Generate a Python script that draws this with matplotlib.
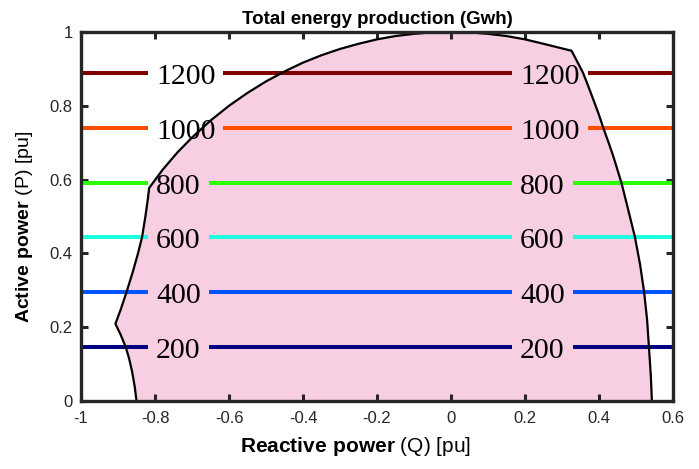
import matplotlib
matplotlib.use("Agg")
import matplotlib.pyplot as plt
from matplotlib.transforms import offset_copy

plt.rcParams["font.family"] = ["Liberation Sans", "DejaVu Sans"]
plt.rcParams["mathtext.fontset"] = "custom"
plt.rcParams["mathtext.rm"] = "Liberation Sans"
plt.rcParams["mathtext.bf"] = "Liberation Sans:bold"

# Energy levels (GWh) and the active power at which each level is reached
energy_levels = [200, 400, 600, 800, 1000, 1200]
level_power = [0.146, 0.295, 0.444, 0.591, 0.740, 0.889]
level_colors = ["#000080", "#0055FF", "#1EFFE0", "#2BFF00", "#FF4E00", "#800000"]

# Capability boundary of the plant in the Q-P plane
boundary_q = [-0.850, -0.855, -0.862, -0.870, -0.879, -0.893, -0.907,
              -0.892, -0.877, -0.860, -0.846, -0.835, -0.826, -0.819, -0.816,
              -0.780, -0.740, -0.700, -0.650, -0.600, -0.550, -0.500, -0.450,
              -0.400, -0.350, -0.300, -0.250, -0.200, -0.150, -0.100, -0.050,
              0.000, 0.050, 0.100, 0.150, 0.200, 0.250, 0.326,
              0.341, 0.357, 0.371, 0.385, 0.399, 0.412, 0.426, 0.439,
              0.450, 0.461, 0.479, 0.497, 0.511, 0.522, 0.530, 0.535,
              0.540, 0.543]
boundary_p = [0.000, 0.040, 0.080, 0.115, 0.146, 0.180, 0.209,
              0.250, 0.295, 0.350, 0.400, 0.444, 0.500, 0.550, 0.577,
              0.626, 0.673, 0.714, 0.760, 0.800, 0.835, 0.866, 0.893,
              0.917, 0.937, 0.954, 0.968, 0.980, 0.989, 0.995, 0.999,
              1.000, 0.999, 0.995, 0.989, 0.980, 0.968, 0.949,
              0.920, 0.889, 0.853, 0.816, 0.778, 0.739, 0.700, 0.662,
              0.626, 0.590, 0.518, 0.445, 0.370, 0.295, 0.220, 0.146,
              0.070, 0.000]

x_ticks = [-1, -0.8, -0.6, -0.4, -0.2, 0, 0.2, 0.4, 0.6]
x_ticklabels = ["-1", "-0.8", "-0.6", "-0.4", "-0.2", "0", "0.2", "0.4", "0.6"]
y_ticks = [0, 0.2, 0.4, 0.6, 0.8, 1]
y_ticklabels = ["0", "0.2", "0.4", "0.6", "0.8", "1"]

# Where the inline contour labels start (Q, pu)
label_starts = [-0.819, 0.165]

frame_color = "#262626"

fig = plt.figure(figsize=(6.99, 4.69), dpi=100)
ax = fig.add_axes([0.1159, 0.145, 0.9628 - 0.1159, 0.9318 - 0.145])
ax.set_xlim(-1, 0.6)
ax.set_ylim(0, 1)

# Feasible operating region
ax.fill(boundary_q + [boundary_q[0]], boundary_p + [boundary_p[0]],
        color="#F8CFE2", lw=0, zorder=1)
ax.plot(boundary_q, boundary_p, color="black", lw=1.6, zorder=4,
        solid_joinstyle="round")

fig.canvas.draw()
renderer = fig.canvas.get_renderer()
pad_px = 8

for lev, p, col in zip(energy_levels, level_power, level_colors):
    seg_start = -1.0
    for xs in label_starts:
        trans = offset_copy(ax.transData, fig=fig, x=pad_px, y=-11.0,
                            units="dots")
        t = ax.text(xs, p, str(lev), transform=trans, ha="left",
                    va="baseline", fontsize=21.5, color="black",
                    family=["Liberation Serif", "DejaVu Serif"], zorder=5)
        bb = t.get_window_extent(renderer)
        x_end_px = bb.x1 + pad_px
        x_end = ax.transData.inverted().transform((x_end_px, 0))[0]
        ax.plot([seg_start, xs], [p, p], color=col, lw=2.9,
                solid_capstyle="butt", zorder=3)
        seg_start = x_end
    ax.plot([seg_start, 0.6], [p, p], color=col, lw=2.9,
            solid_capstyle="butt", zorder=3)

ax.set_xticks(x_ticks)
ax.set_xticklabels(x_ticklabels)
ax.set_yticks(y_ticks)
ax.set_yticklabels(y_ticklabels)
ax.tick_params(direction="in", length=5, width=2.2, colors=frame_color,
               labelsize=12, top=True, right=True, pad=6)
ax.tick_params(axis="x", pad=7)
for sp in ax.spines.values():
    sp.set_linewidth(2.4)
    sp.set_color(frame_color)
    sp.set_zorder(6)

ax.set_title("Total energy production (Gwh)", fontsize=13.5, fontweight="bold",
             pad=6)
ax.set_xlabel(r"$\mathbf{Reactive\ power}$ (Q) [pu]", fontsize=15,
              color="black")
ax.set_ylabel(r"$\mathbf{Active\ power}$ (P) [pu]", fontsize=14,
              color="black")
ax.xaxis.set_label_coords(0.463, -0.093)
ax.yaxis.set_label_coords(-0.078, 0.4715)

fig.savefig("out.png", dpi=100)
